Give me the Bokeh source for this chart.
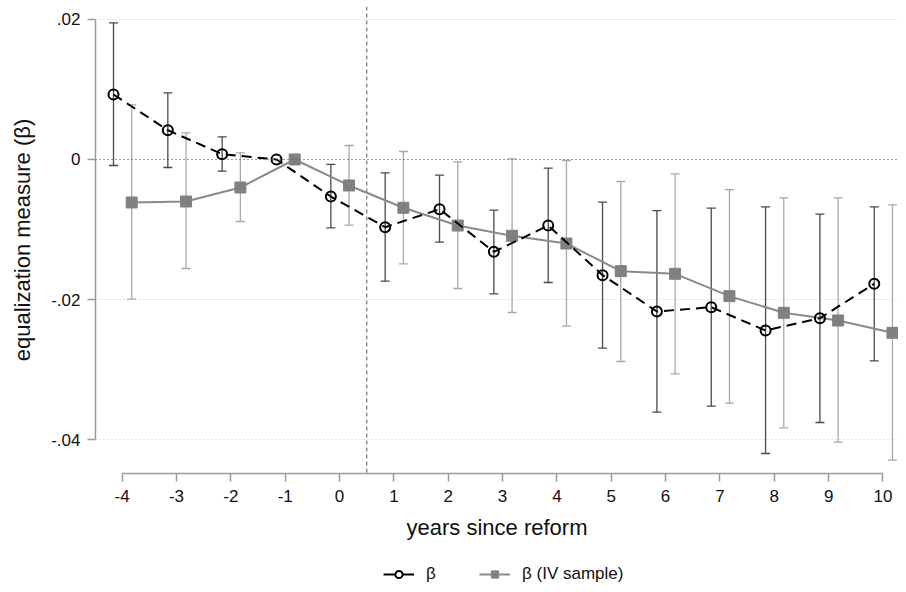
from bokeh.plotting import figure
from bokeh.layouts import column
from bokeh.models import (ColumnDataSource, Range1d, FixedTicker, Whisker, TeeHead,
                          Span, Legend, LegendItem)
from bokeh.embed import file_html
from bokeh.resources import INLINE

# ---------------- data ----------------
years = [-4, -3, -2, -1, 0, 1, 2, 3, 4, 5, 6, 7, 8, 9, 10]

beta = [0.00929, 0.00419, 0.00076, 0.0, -0.00529, -0.00967, -0.0071, -0.01319,
        -0.00943, -0.01652, -0.02171, -0.0211, -0.02443, -0.02267, -0.01776]
beta_hi = [0.01953, 0.00953, 0.00324, None, -0.00071, -0.0019, -0.00224, -0.00724,
           -0.00124, -0.0061, -0.00729, -0.00695, -0.00676, -0.00781, -0.00676]
beta_lo = [-0.00086, -0.00114, -0.00167, None, -0.00976, -0.01738, -0.01181, -0.01919,
           -0.01757, -0.02695, -0.0361, -0.03524, -0.042, -0.03757, -0.02876]

iv = [-0.00614, -0.006, -0.004, 0.0, -0.00371, -0.0069, -0.00943, -0.0109,
      -0.012, -0.01595, -0.01633, -0.01952, -0.0219, -0.023, -0.02476]
iv_hi = [0.00781, 0.00381, 0.00095, None, 0.002, 0.00114, -0.00033, 0.0001,
         -0.00014, -0.00314, -0.00205, -0.00429, -0.00548, -0.00548, -0.00648]
iv_lo = [-0.01996, -0.01557, -0.00886, None, -0.00938, -0.0149, -0.01843, -0.02186,
         -0.02381, -0.02886, -0.03062, -0.03481, -0.03833, -0.04038, -0.04295]

y_ticks = [-0.04, -0.02, 0.0, 0.02]
y_tick_labels = ["-.04", "-.02", "0", ".02"]
x_ticks = years
x_tick_labels = [str(y) for y in years]
reform_line = 0.5

series_names = ["β", "β (IV sample)"]
x_label = "years since reform"
y_label = "equalization measure (β)"

# ---------------- styling ----------------
FONT = "Liberation Sans"
BETA_SHIFT = -0.16
IV_SHIFT = 0.175
W = 898
MAIN_H = 542
LEG_H = 42

p = figure(width=W, height=MAIN_H, output_backend="svg", toolbar_location=None,
           x_range=Range1d(-4.491, 10.286), y_range=Range1d(-0.044857, 0.021857),
           min_border_left=95, min_border_right=0, min_border_top=6,
           min_border_bottom=MAIN_H - 473)
p.outline_line_color = None
p.background_fill_color = "white"
p.border_fill_color = "white"

# grids
p.xgrid.grid_line_color = None
p.ygrid.ticker = FixedTicker(ticks=y_ticks)
p.ygrid.grid_line_color = "#c8c8c8"
p.ygrid.grid_line_dash = "1 3"
p.ygrid.grid_line_width = 1

# axes
for ax in (p.xaxis[0], p.yaxis[0]):
    ax.axis_line_color = "#9a9a9a"
    ax.axis_line_width = 1.5
    ax.major_tick_line_color = "#9a9a9a"
    ax.major_tick_line_width = 1.5
    ax.minor_tick_line_color = None
    ax.major_tick_in = 0
    ax.major_tick_out = 8
    ax.major_label_text_font = FONT
    ax.major_label_text_font_size = "17px"
    ax.major_label_text_color = "#111111"
    ax.axis_label_text_font = FONT
    ax.axis_label_text_font_size = "22px"
    ax.axis_label_text_font_style = "normal"
    ax.axis_label_text_color = "#111111"

p.xaxis.ticker = FixedTicker(ticks=x_ticks)
p.xaxis.bounds = (min(x_ticks), max(x_ticks))
p.xaxis.major_label_overrides = {t: l for t, l in zip(x_ticks, x_tick_labels)}
p.xaxis.major_label_standoff = 8
p.xaxis.axis_label = x_label
p.xaxis.axis_label_standoff = 10

p.yaxis.ticker = FixedTicker(ticks=y_ticks)
p.yaxis.bounds = (min(y_ticks), max(y_ticks))
p.yaxis.major_label_overrides = {t: l for t, l in zip(y_ticks, y_tick_labels)}
p.yaxis.major_label_orientation = "horizontal"
p.yaxis.major_label_standoff = 7
p.yaxis.axis_label = y_label
p.yaxis.axis_label_standoff = 13

# reference lines
p.add_layout(Span(location=0, dimension="width", line_color="#555555",
                  line_dash="1 3", line_width=1.2))
p.add_layout(Span(location=reform_line, dimension="height", line_color="#808080",
                  line_dash="4 3", line_width=1.3))

# sources
bx = [y + BETA_SHIFT for y in years]
ix = [y + IV_SHIFT for y in years]
beta_src = ColumnDataSource(dict(x=bx, y=beta))
iv_src = ColumnDataSource(dict(x=ix, y=iv))


def err_src(xs, lo, hi):
    keep = [i for i in range(len(xs)) if lo[i] is not None and hi[i] is not None]
    return ColumnDataSource(dict(x=[xs[i] for i in keep], lo=[lo[i] for i in keep],
                                 hi=[hi[i] for i in keep]))


iv_err = err_src(ix, iv_lo, iv_hi)
beta_err = err_src(bx, beta_lo, beta_hi)

IV_ERR_C = "#a8a8a8"
B_ERR_C = "#4a4a4a"
p.add_layout(Whisker(source=iv_err, base="x", lower="lo", upper="hi",
                     line_color=IV_ERR_C, line_width=1.3,
                     upper_head=TeeHead(size=9, line_color=IV_ERR_C, line_width=1.3),
                     lower_head=TeeHead(size=9, line_color=IV_ERR_C, line_width=1.3)))
p.add_layout(Whisker(source=beta_err, base="x", lower="lo", upper="hi",
                     line_color=B_ERR_C, line_width=1.3,
                     upper_head=TeeHead(size=9, line_color=B_ERR_C, line_width=1.3),
                     lower_head=TeeHead(size=9, line_color=B_ERR_C, line_width=1.3)))

# IV series
p.line("x", "y", source=iv_src, line_color="#8a8a8a", line_width=2)
p.scatter("x", "y", source=iv_src, marker="square", size=11,
          fill_color="#808080", line_color="#808080")

# beta series
p.line("x", "y", source=beta_src, line_color="black", line_width=2, line_dash="10 6")
p.scatter("x", "y", source=beta_src, marker="circle", size=10, line_width=2,
          line_color="black", fill_color="white", fill_alpha=0.0)

# ---------------- legend strip ----------------
lf = figure(width=W, height=LEG_H, output_backend="svg", toolbar_location=None,
            x_range=Range1d(0, 1), y_range=Range1d(0, 1),
            x_axis_location=None, y_axis_location=None,
            min_border_left=0, min_border_right=0, min_border_top=0, min_border_bottom=0)
lf.outline_line_color = None
lf.xgrid.grid_line_color = None
lf.ygrid.grid_line_color = None


def offscreen():
    # a single point outside the legend strip's visible range (legend sample only)
    return ColumnDataSource(dict(x=[-5.0, -4.0], y=[-5.0, -5.0]))


lg_b_line = lf.line("x", "y", source=offscreen(), line_color="black", line_width=2)
lg_b_mark = lf.scatter("x", "y", source=offscreen(), marker="circle", size=10, line_width=2,
                       line_color="black", fill_color="white")
lg_i_line = lf.line("x", "y", source=offscreen(), line_color="#8a8a8a", line_width=2)
lg_i_mark = lf.scatter("x", "y", source=offscreen(), marker="square", size=11,
                       fill_color="#808080", line_color="#808080")

legend = Legend(items=[LegendItem(label=series_names[0], renderers=[lg_b_line, lg_b_mark]),
                       LegendItem(label=series_names[1], renderers=[lg_i_line, lg_i_mark])],
                orientation="horizontal", location=(288, 0),
                glyph_width=31, glyph_height=18, label_standoff=12, spacing=33,
                padding=0, margin=0, border_line_color=None,
                background_fill_alpha=0, label_text_font=FONT,
                label_text_font_size="17px", label_text_color="#111111")
lf.add_layout(legend, "center")

layout = column(p, lf, spacing=0)
open("out.html", "w").write(file_html(layout, INLINE))
